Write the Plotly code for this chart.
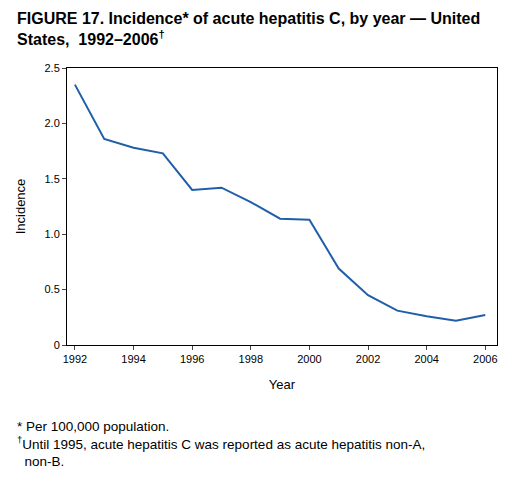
import plotly.graph_objects as go

years = list(range(1992, 2007))
incidence = [2.35, 1.86, 1.78, 1.73, 1.40, 1.42, 1.29, 1.14, 1.13, 0.69, 0.45, 0.31, 0.26, 0.22, 0.27]
x_ticks = list(range(1992, 2007, 2))
y_ticks = [0, 0.5, 1.0, 1.5, 2.0, 2.5]
y_labels = ["0", "0.5", "1.0", "1.5", "2.0", "2.5"]

fig = go.Figure(go.Scatter(x=years, y=incidence, mode="lines",
                           line=dict(color="#1f5fa8", width=2)))
fig.update_layout(
    width=512, height=477, paper_bgcolor="white", plot_bgcolor="white",
    margin=dict(l=54, r=23, t=60, b=140),
    font=dict(family="Liberation Sans, Arial", size=12, color="black"),
    showlegend=False,
    annotations=[
        dict(text="<b>FIGURE 17. Incidence* of acute hepatitis C, by year — United<br>States,  1992–2006<sup>†</sup></b>",
             x=0, y=1, xref="paper", yref="paper", xanchor="left", yanchor="top",
             align="left", showarrow=False, font=dict(size=16), xshift=-52, yshift=60),
        dict(text="* Per 100,000 population.<br><sup>†</sup>Until 1995, acute hepatitis C was reported as acute hepatitis non-A,<br>  non-B.",
             x=0, y=0, xref="paper", yref="paper", xanchor="left", yanchor="top",
             align="left", showarrow=False, font=dict(size=13.5), xshift=-52, yshift=-72),
    ],
)
fig.update_xaxes(range=[1991.73, 2006.4], tickvals=x_ticks, ticks="outside", ticklen=4,
                 showgrid=False, showline=True, linecolor="black", mirror=True,
                 title=dict(text="Year", font=dict(size=13)), tickfont=dict(size=11))
fig.update_yaxes(range=[0, 2.5], tickvals=y_ticks, ticktext=y_labels, ticks="outside", ticklen=4,
                 showgrid=False, showline=True, linecolor="black", mirror=True, zeroline=False,
                 title=dict(text="Incidence", font=dict(size=13)), tickfont=dict(size=11))
fig.write_html("out.html")
